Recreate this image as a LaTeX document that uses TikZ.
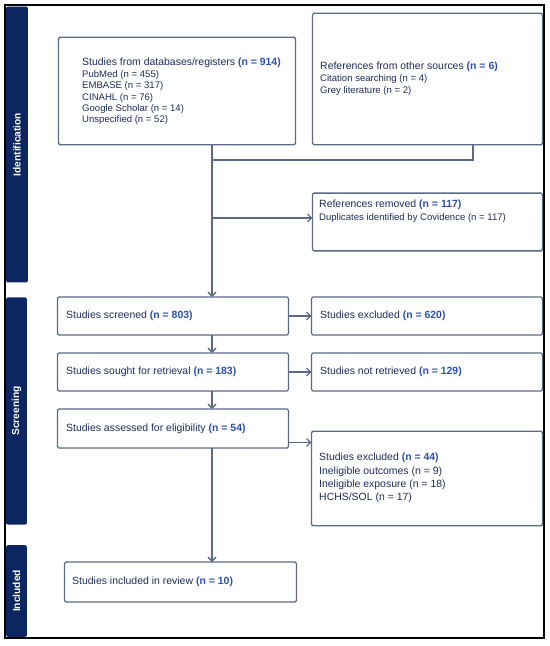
\documentclass[tikz,border=0pt]{standalone}
\usepackage{fontspec}
\setmainfont{Liberation Sans}
\usetikzlibrary{arrows.meta,positioning}
\definecolor{barblue}{HTML}{0B2661}
\definecolor{linegray}{HTML}{5A6A88}
\definecolor{txtnavy}{HTML}{1E2D5A}
\definecolor{nblue}{HTML}{2B50B0}
\newcommand{\ncount}[1]{\textbf{\textcolor{nblue}{(n = #1)}}}
\newcommand{\boxhead}[1]{{\fontsize{10.5}{11.5}\selectfont #1}}

\begin{document}
\begin{tikzpicture}[x=1bp, y=-1bp,
    box/.style={draw=linegray, line width=1.3bp, rounded corners=1.5bp, fill=white, inner sep=0pt, outer sep=0pt},
    txt/.style={anchor=west, align=left, inner sep=0pt, text=txtnavy, font=\fontsize{10.5}{12}\selectfont},
    sub/.style={txt, font=\fontsize{9.6}{11.5}\selectfont},
    side/.style={fill=barblue, rotate=90, rounded corners=2bp, inner sep=0pt, text=white, font=\fontsize{10.2}{12}\selectfont\bfseries},
    arrow/.style={-{Straight Barb[length=4bp,width=8bp]}, draw=linegray, line width=1.3bp},
    link/.style={draw=linegray, line width=1.3bp}]
    \useasboundingbox (0,0) rectangle (550,646);
    \draw[black, line width=1.3bp] (5,5) rectangle (544,638);
    % phase bars
    \node[side, minimum width=277, minimum height=22] (idbar) at (17,144.5) {Identification};
    \node[side, minimum width=228, minimum height=21] (scrbar) at (16.5,411) {Screening};
    \node[side, minimum width=92, minimum height=21] (incbar) at (16.5,591) {Included};
    % boxes
    \node[box, minimum width=238, minimum height=108] (db) at (177,91) {};
    \node[box, minimum width=231, minimum height=132] (oth) at (427.5,79) {};
    \node[box, minimum width=231, minimum height=58] (rem) at (427.5,222) {};
    \node[box, minimum width=232, minimum height=38] (scr) at (173,316) {};
    \node[box, minimum width=232, minimum height=38] (exc) at (427,316) {};
    \node[box, minimum width=232, minimum height=38] (ret) at (173,372) {};
    \node[box, minimum width=232, minimum height=38] (nret) at (427,372) {};
    \node[box, minimum width=232, minimum height=39] (elig) at (173,428.5) {};
    \node[box, minimum width=232, minimum height=95] (exctwo) at (427,478.5) {};
    \node[box, minimum width=233, minimum height=40] (inc) at (180.5,582) {};
    % texts
    \node[sub] (dbtxt) at (82,91.5) {\boxhead{Studies from databases/registers \ncount{914}}\\
        PubMed (n = 455)\\ EMBASE (n = 317)\\ CINAHL (n = 76)\\
        Google Scholar (n = 14)\\ Unspecified (n = 52)};
    \node[sub, font=\fontsize{9.6}{12}\selectfont] (othtxt) at (320,79) {\boxhead{References from other sources \ncount{6}}\\
        Citation searching (n = 4)\\ Grey literature (n = 2)};
    \node[sub, font=\fontsize{9.6}{12.7}\selectfont] (remtxt) at (319,211.5) {\boxhead{References removed \ncount{117}}\\
        Duplicates identified by Covidence (n = 117)};
    \node[txt] (scrtxt) at (66,316) {Studies screened \ncount{803}};
    \node[txt] (exctxt) at (320,316) {Studies excluded \ncount{620}};
    \node[txt] (rettxt) at (66,372) {Studies sought for retrieval \ncount{183}};
    \node[txt] (nrettxt) at (320,372) {Studies not retrieved \ncount{129}};
    \node[txt] (eligtxt) at (66,428.5) {Studies assessed for eligibility \ncount{54}};
    \node[txt, font=\fontsize{10.5}{13.4}\selectfont] (exctwotxt) at (319,478) {Studies excluded \ncount{44}\\
        Ineligible outcomes (n = 9)\\ Ineligible exposure (n = 18)\\ HCHS/SOL (n = 17)};
    \node[txt] (inctxt) at (72,582) {Studies included in review \ncount{10}};
    % connectors
    \coordinate (spine) at (212,0);
    \coordinate (join) at (473,160);
    \draw[link] (oth.south -| join) -- (join) -- (join -| spine);
    \draw[arrow] (db.south -| spine) -- (scr.north -| spine);
    \draw[arrow] (spine |- 0,218) -- (rem.west |- 0,218);
    \draw[arrow] (scr.east) -- (exc.west);
    \draw[arrow] (ret.east) -- (nret.west);
    \draw[arrow] (scr.south -| spine) -- (ret.north -| spine);
    \draw[arrow] (ret.south -| spine) -- (elig.north -| spine);
    \draw[arrow] ([yshift=-14bp]elig.east) -- ([yshift=-14bp]elig.east -| exctwo.west);
    \draw[arrow] (elig.south -| spine) -- (inc.north -| spine);
\end{tikzpicture}
\end{document}
